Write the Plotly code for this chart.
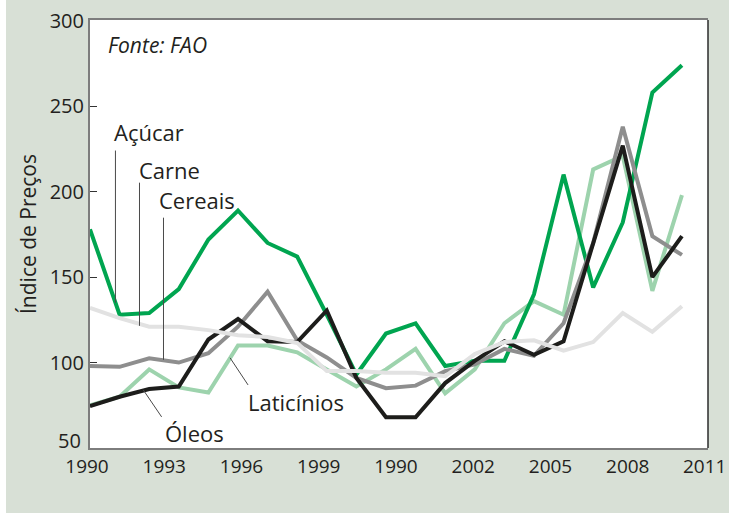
import plotly.graph_objects as go

# indice de precos FAO, 21 pontos anuais
pontos = list(range(21))

acucar = [178, 128, 129, 143, 172, 189, 170, 162, 128, 93, 117, 123, 98, 101, 101, 140, 210, 144, 182, 258, 274]
carne = [132, 126, 121, 121, 119, 116, 115, 111.5, 95, 95, 94, 94, 92, 105, 112, 113, 107, 112, 129, 118, 133]
cereais = [98, 97.5, 102.5, 100, 105.5, 121, 141.5, 113, 103, 91, 85, 86.5, 95, 99, 108, 104, 123, 170, 238, 174, 163]
laticinios = [75, 80, 96, 85.5, 82.5, 110, 110, 106, 96, 86, 96, 108, 82, 96, 123, 136, 128, 213, 221, 142, 198]
oleos = [74.5, 80, 84.5, 86, 113.5, 125.5, 112.5, 112, 130.5, 91, 68, 68, 88, 101, 112.5, 104.5, 112.5, 169, 227, 150, 174]

tick_labels = ["1990", "1993", "1996", "1999", "1990", "2002", "2005", "2008", "2011"]
y_ticks = [100, 150, 200, 250, 300]

FONT = "Open Sans, Noto Sans, sans-serif"
TEXT = "#231f20"
BG = "#d8e0d6"
X_MAX = 20.88

fig = go.Figure()

series = [
    (laticinios, "Laticínios", "#9dd3ad"),
    (acucar, "Açúcar", "#00a550"),
    (cereais, "Cereais", "#8e8e8e"),
    (oleos, "Óleos", "#1d1d1b"),
    (carne, "Carne", "#e2e2e2"),
]

for vals, name, color in series:
    fig.add_trace(go.Scatter(
        x=pontos,
        y=vals,
        name=name,
        mode="lines",
        line=dict(color=color, width=4),
        hoverinfo="skip"
    ))

# rotulos das series
labels = [
    ("Açúcar", 0.76, 234.7),
    ("Carne", 1.60, 213),
    ("Cereais", 2.28, 195.4),
    ("Laticínios", 5.28, 77),
    ("Óleos", 2.45, 58.8),
]
for txt, x, y in labels:
    fig.add_annotation(
        x=x, y=y, xref="x", yref="y", text=txt, showarrow=False,
        xanchor="left", yanchor="middle",
        font=dict(family=FONT, size=22, color=TEXT)
    )

fig.add_annotation(
    x=0.55, y=285.7, xref="x", yref="y", text="<i>Fonte: FAO</i>",
    showarrow=False, xanchor="left", yanchor="middle",
    font=dict(family=FONT, size=21, color=TEXT)
)

# o "50" fica um pouco acima, como no original
fig.add_annotation(
    x=0, y=50, xref="paper", yref="y", text="50", showarrow=False,
    xanchor="right", yanchor="middle", xshift=-7, yshift=8,
    font=dict(family=FONT, size=20, color=TEXT)
)

# linhas de chamada
pointers = [
    (0.86, 224.1, 0.86, 135.0),
    (1.672, 205.3, 1.672, 121.5),
    (2.483, 184.8, 2.483, 101.6),
    (4.73, 102.8, 5.34, 86.9),
    (1.80, 84.0, 2.42, 68.2),
]
for x0, y0, x1, y1 in pointers:
    fig.add_shape(
        type="line", xref="x", yref="y", x0=x0, y0=y0, x1=x1, y1=y1,
        line=dict(color="#4a4a4a", width=1)
    )

# borda direita escura
fig.add_shape(
    type="line", xref="paper", yref="paper", x0=1, x1=1, y0=0, y1=1,
    line=dict(color="#2b2b2b", width=1.5)
)

# faixa branca na esquerda
fig.add_shape(
    type="rect", xref="paper", yref="paper",
    x0=-90 / 618, x1=-84 / 618, y0=-0.16, y1=1.06,
    fillcolor="white", line=dict(width=0), layer="below"
)

step = X_MAX / 8
fig.update_layout(
    width=729,
    height=513,
    showlegend=False,
    plot_bgcolor="white",
    paper_bgcolor=BG,
    margin=dict(l=90, r=21, t=20, b=65),
    font=dict(family=FONT, size=20, color=TEXT)
)

fig.update_xaxes(
    range=[0, X_MAX],
    tickvals=[i * step - (0.01 if i == 8 else 0) for i in range(9)],
    ticktext=tick_labels,
    ticklabeloverflow="allow",
    ticklabelshift=-3,
    showgrid=False,
    zeroline=False,
    ticks="",
    showline=True,
    mirror=True,
    linecolor="#7d7d7d",
    linewidth=2,
    automargin=False,
    tickfont=dict(size=19, color=TEXT)
)

fig.update_yaxes(
    range=[50, 300.5],
    tickvals=y_ticks,
    showgrid=False,
    zeroline=False,
    ticks="inside",
    ticklen=7,
    tickcolor="#333333",
    showline=True,
    linecolor="#7d7d7d",
    linewidth=2,
    automargin=False,
    tickfont=dict(size=20, color=TEXT),
    title=dict(text="Índice de Preços", font=dict(size=21, color=TEXT), standoff=7)
)

# sem a margem padrao do body, a figura ocupa a janela inteira
fig.write_html(
    "out.html",
    config={"displayModeBar": False},
    post_script="document.body.style.margin='0';document.body.style.overflow='hidden';"
)
